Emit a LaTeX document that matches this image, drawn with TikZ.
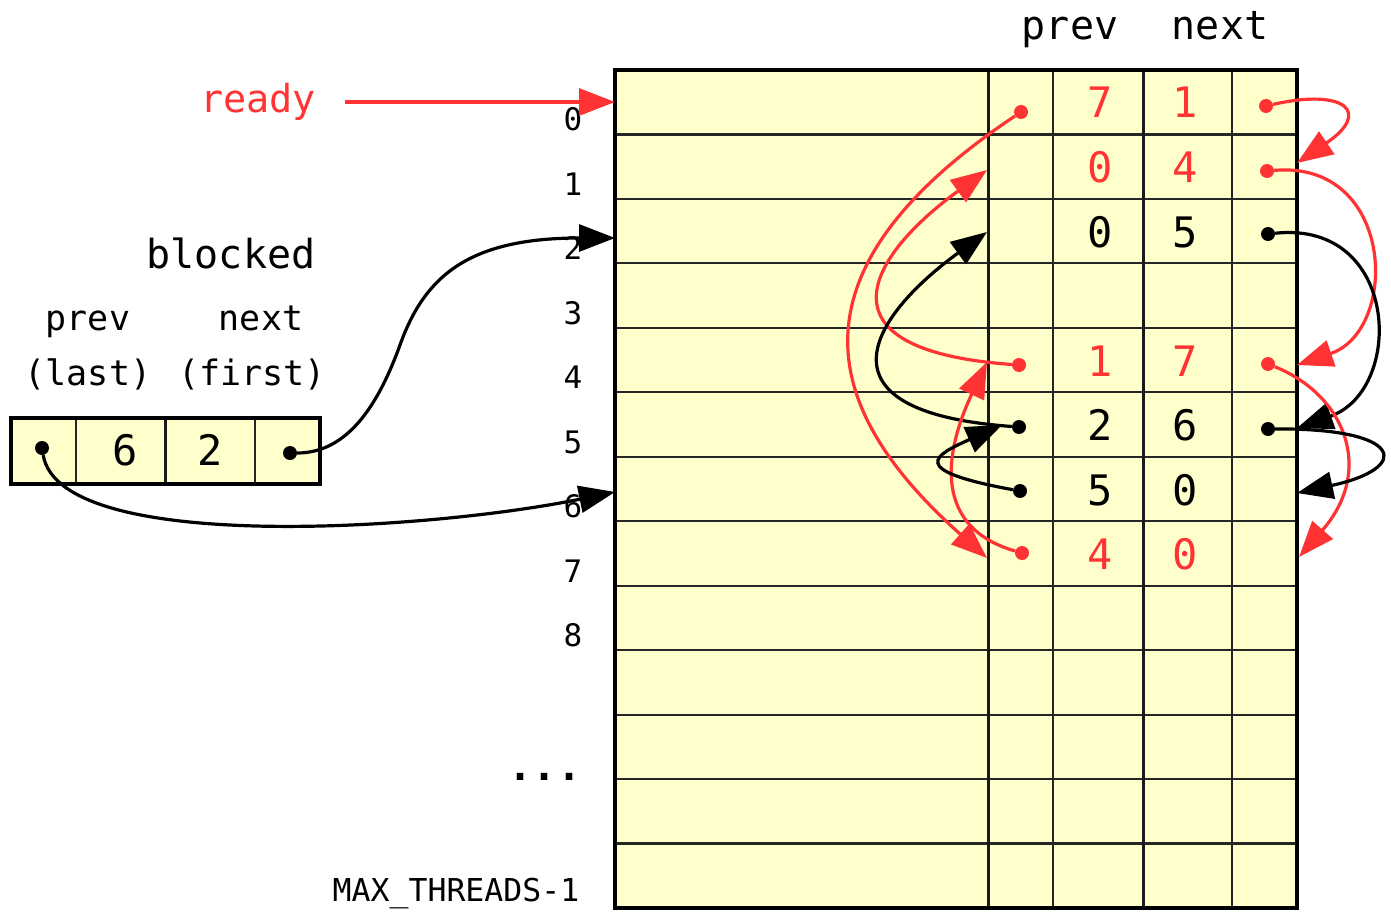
\documentclass[tikz,border=0pt]{standalone}
\usepackage{fontspec}
\setmonofont{DejaVu Sans Mono}
\usetikzlibrary{arrows.meta}
\definecolor{cellfill}{RGB}{255,255,204}
\definecolor{rd}{RGB}{255,51,51}
\begin{document}
\begin{tikzpicture}[x=1pt,y=-1pt,
  txt/.style={font=\ttfamily\fontsize{#1}{#1}\selectfont, inner sep=0pt, anchor=base},
  dot/.style={circle, fill, inner sep=0pt, minimum size=14pt},
  ptr/.style={line width=3.2pt, -{Triangle[length=36pt,width=27pt]}},
  grid/.style={line width=2.2pt, draw=black!85},
  gridthick/.style={line width=3pt, draw=black!90}]
\useasboundingbox (0,0) rectangle (1391,912);

% main table
\fill[cellfill] (615,70) rectangle (1297,908);
\foreach \i in {1,...,12} {
  \draw[grid] (615,{70+64.4615*\i}) -- (1297,{70+64.4615*\i});
}
\draw[grid] (1053,70) -- (1053,908);
\draw[grid] (1232,70) -- (1232,908);
\draw[gridthick] (988,70) -- (988,908);
\draw[gridthick] (1143,70) -- (1143,908);
\draw[line width=3.6pt] (615,70) rectangle (1297,908);

% headers
\node[txt=40] (hprev) at (1070,40) {prev};
\node[txt=40] (hnext) at (1220,40) {next};

% row labels
\foreach \k in {0,...,8} {
  \node[txt=31] (rl\k) at (573,{131+64.4615*\k}) {\k};
}
\node[txt=40, font=\ttfamily\bfseries\fontsize{40}{40}\selectfont] (dots) at (545,780) {...};
\node[txt=31.5] (maxt) at (456,901) {MAX\_THREADS-1};

% table entries
\node[txt=42, rd] (p0) at (1100,118) {7};
\node[txt=42, rd] (n0) at (1185,118) {1};
\node[txt=42, rd] (p1) at (1100,182.5) {0};
\node[txt=42, rd] (n1) at (1185,182.5) {4};
\node[txt=42] (p2) at (1100,247) {0};
\node[txt=42] (n2) at (1185,247) {5};
\node[txt=42, rd] (p4) at (1100,376) {1};
\node[txt=42, rd] (n4) at (1185,376) {7};
\node[txt=42] (p5) at (1100,440.5) {2};
\node[txt=42] (n5) at (1185,440.5) {6};
\node[txt=42] (p6) at (1100,505) {5};
\node[txt=42] (n6) at (1185,505) {0};
\node[txt=42, rd] (p7) at (1100,569.5) {4};
\node[txt=42, rd] (n7) at (1185,569.5) {0};

% dots in table
\node[dot, rd] (r0) at (1266,106) {};
\node[dot, rd] (r1) at (1267,171) {};
\node[dot] (r2) at (1268,234) {};
\node[dot, rd] (r4) at (1268,364) {};
\node[dot] (r5) at (1268,429) {};
\node[dot, rd] (l0) at (1021,112) {};
\node[dot, rd] (l4) at (1019,365) {};
\node[dot] (l5) at (1019,427) {};
\node[dot] (l6) at (1020,491) {};
\node[dot, rd] (l7) at (1022,553) {};

% arrow tips
\coordinate (t1R) at (1297,163);
\coordinate (t4R) at (1297,365);
\coordinate (t5R) at (1297,428);
\coordinate (t6R) at (1297,493);
\coordinate (t7R) at (1299,557);
\coordinate (t1L) at (987,170);
\coordinate (t2L) at (987,232);
\coordinate (t4L) at (987,362);
\coordinate (t5L) at (1002,425);
\coordinate (t7L) at (987,558);
\coordinate (row0) at (615,102);
\coordinate (row2) at (615,238);
\coordinate (row6) at (615,492);

% next pointers (right side)
\draw[ptr, rd] (r0) .. controls (1345,88) and (1372,112) .. (t1R);
\draw[ptr, rd] (r1) .. controls (1395,160) and (1400,330) .. (t4R);
\draw[ptr] (r2) .. controls (1400,220) and (1405,390) .. (t5R);
\draw[ptr, rd] (r4) .. controls (1345,395) and (1375,470) .. (t7R);
\draw[ptr] (r5) .. controls (1405,428) and (1412,468) .. (t6R);

% prev pointers (left side)
\draw[ptr, rd] (l0) .. controls (780,273) and (822,411) .. (t7L);
\draw[ptr, rd] (l4) .. controls (810,350) and (870,255) .. (t1L);
\draw[ptr] (l5) .. controls (810,412) and (870,317) .. (t2L);
\draw[ptr, rd] (l7) .. controls (925,525) and (950,440) .. (t4L);
\draw[ptr] (l6) .. controls (905,470) and (935,455) .. (t5L);

% ready
\node[txt=38.5, rd] (ready) at (258,113) {ready};
\coordinate (rs) at (345,102);
\draw[ptr, rd] (rs) -- (row0);

% blocked
\node[txt=40] (blocked) at (231,268) {blocked};
\node[txt=35] (bprev) at (88,330) {prev};
\node[txt=35] (bnext) at (261,330) {next};
\node[txt=35] (blast) at (88,385) {(last)};
\node[txt=35] (bfirst) at (252,385) {(first)};
\fill[cellfill] (11,418) rectangle (320,484);
\draw[grid] (76,418) -- (76,484);
\draw[grid] (255,418) -- (255,484);
\draw[gridthick] (165,418) -- (165,484);
\draw[line width=3.6pt] (11,418) rectangle (320,484);
\node[txt=42] (b6) at (125,465) {6};
\node[txt=42] (b2) at (210,465) {2};
\node[dot] (bp) at (42,448) {};
\node[dot] (bn) at (290,453) {};
\draw[ptr] (bn) .. controls (350,453) and (380,400) .. (400,345)
  .. controls (425,275) and (470,238) .. (row2);
\draw[ptr] (bp) .. controls (60,555) and (430,530) .. (row6);
\end{tikzpicture}
\end{document}
